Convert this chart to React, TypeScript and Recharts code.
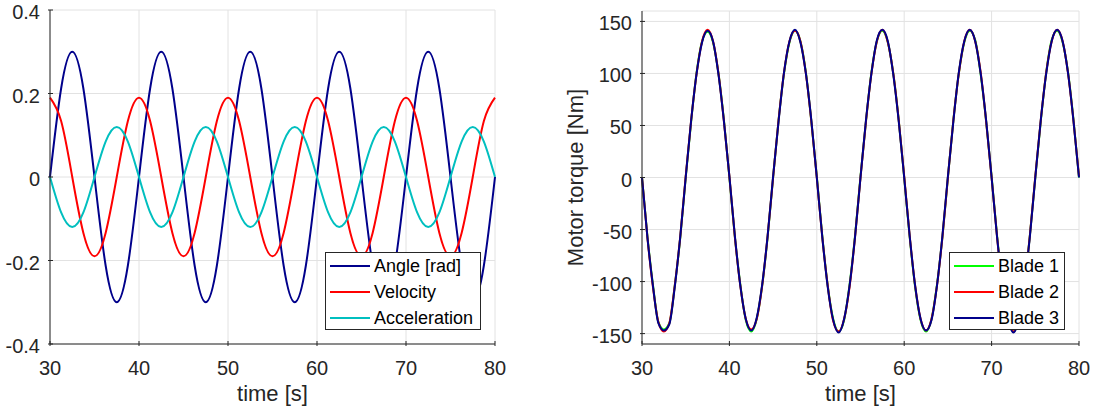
import React from 'react';
import { LineChart, Line, XAxis, YAxis, CartesianGrid, Legend } from 'recharts';

const FONT = '"Liberation Sans", Arial, Helvetica, sans-serif';
const INK = '#262626';
const GRID = '#e2e2e2';

// ---------- Left panel data ----------
const timeL = [
  30, 31.25, 32.5, 33.75, 35, 36.25, 37.5, 38.75,
  40, 41.25, 42.5, 43.75, 45, 46.25, 47.5, 48.75,
  50, 51.25, 52.5, 53.75, 55, 56.25, 57.5, 58.75,
  60, 61.25, 62.5, 63.75, 65, 66.25, 67.5, 68.75,
  70, 71.25, 72.5, 73.75, 75, 76.25, 77.5, 78.75,
  80,
];
const angle = [
  0, 0.212, 0.3, 0.212, 0, -0.212, -0.3, -0.212,
  0, 0.212, 0.3, 0.212, 0, -0.212, -0.3, -0.212,
  0, 0.212, 0.3, 0.212, 0, -0.212, -0.3, -0.212,
  0, 0.212, 0.3, 0.212, 0, -0.212, -0.3, -0.212,
  0, 0.212, 0.3, 0.212, 0, -0.212, -0.3, -0.212,
  0,
];
const velocity = [
  0.19, 0.134, 0, -0.134, -0.19, -0.134, 0, 0.134,
  0.19, 0.134, 0, -0.134, -0.19, -0.134, 0, 0.134,
  0.19, 0.134, 0, -0.134, -0.19, -0.134, 0, 0.134,
  0.19, 0.134, 0, -0.134, -0.19, -0.134, 0, 0.134,
  0.19, 0.134, 0, -0.134, -0.19, -0.134, 0, 0.134,
  0.19,
];
const acceleration = [
  0, -0.085, -0.12, -0.085, 0, 0.085, 0.12, 0.085,
  0, -0.085, -0.12, -0.085, 0, 0.085, 0.12, 0.085,
  0, -0.085, -0.12, -0.085, 0, 0.085, 0.12, 0.085,
  0, -0.085, -0.12, -0.085, 0, 0.085, 0.12, 0.085,
  0, -0.085, -0.12, -0.085, 0, 0.085, 0.12, 0.085,
  0,
];

// ---------- Right panel data ----------
const timeR = [
  30, 30.625, 31.25, 31.875, 32.5, 33.125, 33.75, 34.375, 35, 35.625, 36.25, 36.875, 37.5, 38.125, 38.75, 39.375,
  40, 40.625, 41.25, 41.875, 42.5, 43.125, 43.75, 44.375, 45, 45.625, 46.25, 46.875, 47.5, 48.125, 48.75, 49.375,
  50, 50.625, 51.25, 51.875, 52.5, 53.125, 53.75, 54.375, 55, 55.625, 56.25, 56.875, 57.5, 58.125, 58.75, 59.375,
  60, 60.625, 61.25, 61.875, 62.5, 63.125, 63.75, 64.375, 65, 65.625, 66.25, 66.875, 67.5, 68.125, 68.75, 69.375,
  70, 70.625, 71.25, 71.875, 72.5, 73.125, 73.75, 74.375, 75, 75.625, 76.25, 76.875, 77.5, 78.125, 78.75, 79.375,
  80,
];
const blade1 = [
  0, -57, -103, -139, -146, -140, -104, -58, 0, 54, 101, 131, 140, 130, 100, 55,
  0, -57, -103, -137, -148, -136, -104, -57, 0, 55, 100, 130, 141, 131, 101, 54,
  1, -56, -104, -136, -148, -137, -103, -56, 1, 54, 101, 131, 141, 130, 100, 55,
  0, -57, -105, -137, -148, -136, -103, -57, 0, 55, 100, 130, 141, 132, 99, 54,
  1, -56, -103, -137, -148, -137, -104, -56, 0, 54, 101, 132, 141, 130, 101, 55,
  0,
];
const blade2 = [
  0, -58, -105, -139, -148, -140, -104, -57, 1, 55, 100, 131, 142, 131, 100, 54,
  1, -57, -104, -136, -146, -136, -104, -56, 0, 55, 101, 131, 141, 131, 100, 54,
  0, -57, -104, -138, -148, -136, -105, -57, 0, 54, 100, 131, 142, 130, 100, 55,
  1, -56, -104, -136, -147, -136, -104, -57, 0, 55, 100, 131, 142, 131, 101, 54,
  0, -57, -105, -136, -148, -136, -104, -56, 1, 55, 101, 131, 142, 131, 100, 54,
  1,
];
const blade3 = [
  0, -58, -104, -140, -147, -141, -105, -57, 0, 55, 100, 130, 141, 131, 99, 54,
  1, -56, -104, -136, -147, -135, -103, -56, 1, 54, 101, 131, 142, 130, 100, 55,
  0, -57, -105, -137, -149, -136, -104, -57, 0, 55, 100, 132, 142, 131, 99, 54,
  0, -56, -104, -136, -147, -137, -104, -56, 1, 54, 101, 131, 142, 131, 100, 55,
  0, -57, -104, -136, -149, -136, -103, -57, 0, 55, 100, 131, 142, 131, 100, 54,
  0,
];

const xTicks = [30, 40, 50, 60, 70, 80];
const yTicksL = [-0.4, -0.2, 0, 0.2, 0.4];
const yTicksR = [-150, -100, -50, 0, 50, 100, 150];

const leftSeries = [
  { key: 'angle', name: 'Angle [rad]', color: '#00008b' },
  { key: 'velocity', name: 'Velocity', color: '#ff0000' },
  { key: 'acceleration', name: 'Acceleration', color: '#00bfbf' },
];
const rightSeries = [
  { key: 'blade1', name: 'Blade 1', color: '#00ff00' },
  { key: 'blade2', name: 'Blade 2', color: '#ff0000' },
  { key: 'blade3', name: 'Blade 3', color: '#00008b' },
];

const leftData = timeL.map((t, i) => ({
  t,
  angle: angle[i],
  velocity: velocity[i],
  acceleration: acceleration[i],
}));
const rightData = timeR.map((t, i) => ({
  t,
  blade1: blade1[i],
  blade2: blade2[i],
  blade3: blade3[i],
}));

// ---------- custom ticks (MATLAB style: inward ticks) ----------
function BottomTick(props: any) {
  const { x, y, payload } = props;
  return (
    <g>
      <line x1={x} y1={y} x2={x} y2={y - 5} stroke={INK} strokeWidth={1} />
      <text x={x} y={y + 29} textAnchor="middle" fontSize={20} fill={INK} fontFamily={FONT}>
        {String(payload.value)}
      </text>
    </g>
  );
}
function TopTick(props: any) {
  const { x, y } = props;
  return <line x1={x} y1={y} x2={x} y2={y + 5} stroke={INK} strokeWidth={1} />;
}
function LeftTick(props: any) {
  const { x, y, payload } = props;
  return (
    <g>
      <line x1={x} y1={y} x2={x + 5} y2={y} stroke={INK} strokeWidth={1} />
      <text x={x - 8} y={y + 9} textAnchor="end" fontSize={20} fill={INK} fontFamily={FONT}>
        {String(payload.value)}
      </text>
    </g>
  );
}
function RightTick(props: any) {
  const { x, y } = props;
  return <line x1={x} y1={y} x2={x - 5} y2={y} stroke={INK} strokeWidth={1} />;
}

function XLabel(props: any) {
  const { px, py } = props;
  return (
    <text x={px} y={py} textAnchor="middle" fontSize={22} fill={INK} fontFamily={FONT}>
      time [s]
    </text>
  );
}
function YLabel(props: any) {
  const { px, py, text } = props;
  return (
    <text
      x={px}
      y={py}
      textAnchor="middle"
      fontSize={22}
      fill={INK}
      fontFamily={FONT}
      transform={`rotate(-90, ${px}, ${py})`}
    >
      {text}
    </text>
  );
}

function makeLegend(items: { name: string; color: string }[], width: number) {
  return () => (
    <div
      style={{
        width,
        height: 78,
        border: `1px solid ${INK}`,
        background: '#fff',
        boxSizing: 'border-box',
        position: 'relative',
        fontFamily: FONT,
      }}
    >
      {items.map((it, i) => (
        <div
          key={it.name}
          style={{
            position: 'absolute',
            left: 0,
            top: i * 26,
            height: 26,
            display: 'flex',
            alignItems: 'center',
            whiteSpace: 'nowrap',
          }}
        >
          <span style={{ display: 'inline-block', marginLeft: 4, width: 40, height: 2, background: it.color }} />
          <span style={{ marginLeft: 4, fontSize: 18, color: '#000', lineHeight: '26px' }}>{it.name}</span>
        </div>
      ))}
    </div>
  );
}

const axisLine = { stroke: INK, strokeWidth: 1 };

export default function App() {
  return (
    <div style={{ position: 'absolute', left: 0, top: 0, width: 1097, height: 414, background: '#fff' }}>
      <div style={{ position: 'absolute', left: 0, top: 0 }}>
        <LineChart width={548} height={414} data={leftData} margin={{ top: 10, right: 53, bottom: 0, left: 0 }}>
          <CartesianGrid stroke={GRID} strokeWidth={1} />
          <XAxis
            dataKey="t"
            type="number"
            domain={[30, 80]}
            ticks={xTicks}
            interval={0}
            height={70}
            tickSize={0}
            tickLine={false}
            axisLine={axisLine}
            tick={<BottomTick />}
            label={<XLabel px={272.5} py={401} />}
          />
          <XAxis
            xAxisId="top"
            orientation="top"
            dataKey="t"
            type="number"
            domain={[30, 80]}
            ticks={xTicks}
            interval={0}
            height={0}
            tickSize={0}
            tickLine={false}
            axisLine={axisLine}
            tick={<TopTick />}
          />
          <YAxis
            type="number"
            domain={[-0.4, 0.4]}
            ticks={yTicksL}
            interval={0}
            width={50}
            tickSize={0}
            tickLine={false}
            axisLine={axisLine}
            tick={<LeftTick />}
          />
          <YAxis
            yAxisId="right"
            orientation="right"
            type="number"
            domain={[-0.4, 0.4]}
            ticks={yTicksL}
            interval={0}
            width={0}
            tickSize={0}
            tickLine={false}
            axisLine={axisLine}
            tick={<RightTick />}
          />
          {leftSeries.map((s) => (
            <Line
              key={s.key}
              dataKey={s.key}
              name={s.name}
              type="natural"
              stroke={s.color}
              strokeWidth={2}
              dot={false}
              activeDot={false}
              isAnimationActive={false}
            />
          ))}
          <Legend
            layout="horizontal"
            verticalAlign="middle"
            align="center"
            wrapperStyle={{ left: 325, top: 252, width: 156, height: 78 }}
            content={makeLegend(leftSeries, 156)}
          />
        </LineChart>
      </div>
      <div style={{ position: 'absolute', left: 548, top: 0 }}>
        <LineChart width={549} height={414} data={rightData} margin={{ top: 11, right: 18, bottom: 0, left: 0 }}>
          <CartesianGrid stroke={GRID} strokeWidth={1} />
          <XAxis
            dataKey="t"
            type="number"
            domain={[30, 80]}
            ticks={xTicks}
            interval={0}
            height={70}
            tickSize={0}
            tickLine={false}
            axisLine={axisLine}
            tick={<BottomTick />}
            label={<XLabel px={312.5} py={401} />}
          />
          <XAxis
            xAxisId="top"
            orientation="top"
            dataKey="t"
            type="number"
            domain={[30, 80]}
            ticks={xTicks}
            interval={0}
            height={0}
            tickSize={0}
            tickLine={false}
            axisLine={axisLine}
            tick={<TopTick />}
          />
          <YAxis
            type="number"
            domain={[-160, 160]}
            ticks={yTicksR}
            interval={0}
            width={94}
            tickSize={0}
            tickLine={false}
            axisLine={axisLine}
            tick={<LeftTick />}
            label={<YLabel px={35} py={177.5} text="Motor torque [Nm]" />}
          />
          <YAxis
            yAxisId="right"
            orientation="right"
            type="number"
            domain={[-160, 160]}
            ticks={yTicksR}
            interval={0}
            width={0}
            tickSize={0}
            tickLine={false}
            axisLine={axisLine}
            tick={<RightTick />}
          />
          {rightSeries.map((s) => (
            <Line
              key={s.key}
              dataKey={s.key}
              name={s.name}
              type="monotone"
              stroke={s.color}
              strokeWidth={2}
              dot={false}
              activeDot={false}
              isAnimationActive={false}
            />
          ))}
          <Legend
            layout="horizontal"
            verticalAlign="middle"
            align="center"
            wrapperStyle={{ left: 401, top: 252, width: 116, height: 78 }}
            content={makeLegend(rightSeries, 116)}
          />
        </LineChart>
      </div>
    </div>
  );
}
